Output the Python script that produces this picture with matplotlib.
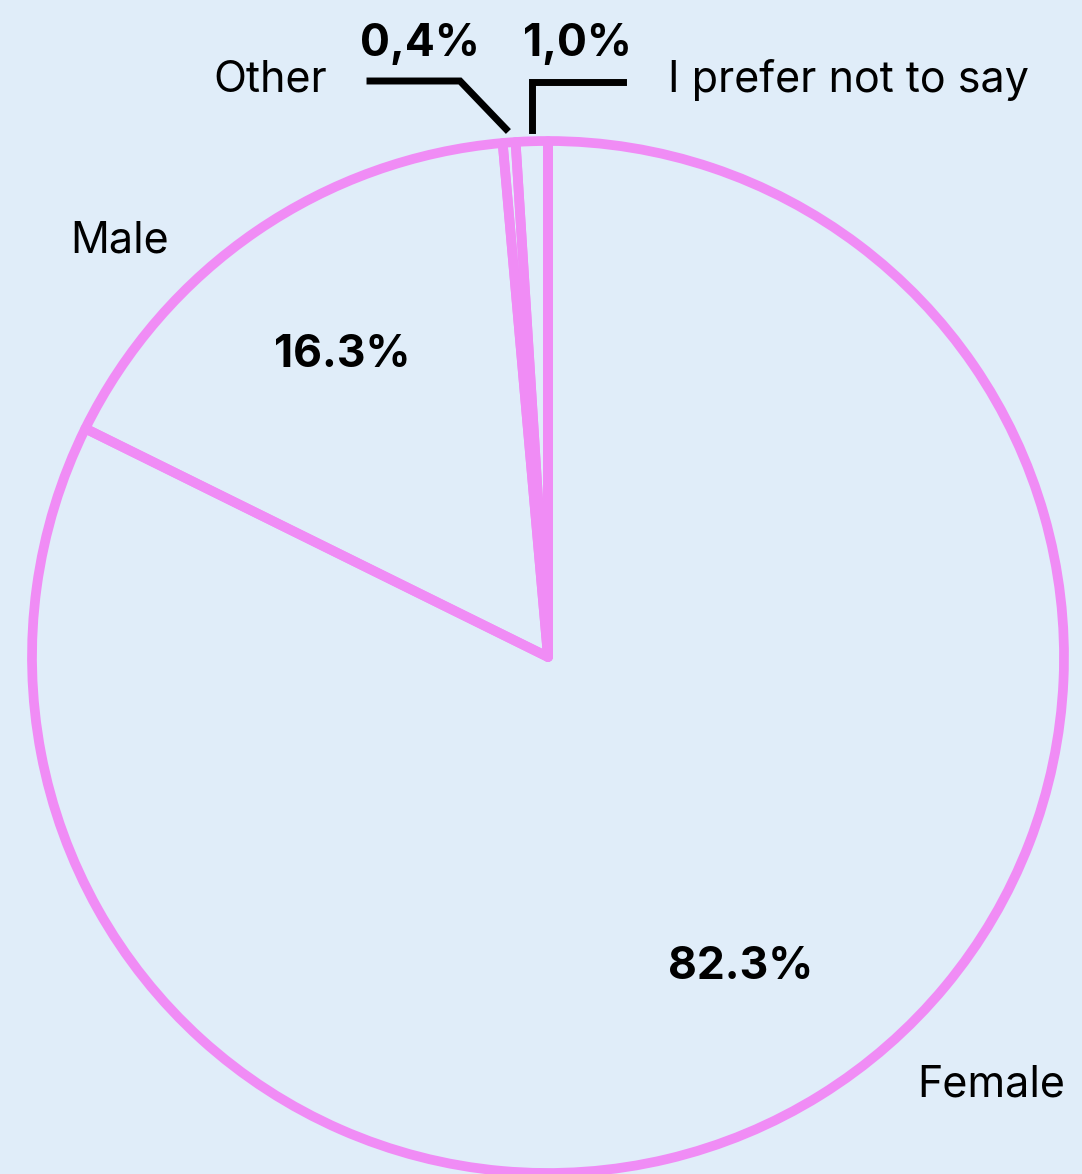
import matplotlib
matplotlib.use("Agg")
import matplotlib.pyplot as plt

# survey answers, in clockwise order from the top
labels = ["Female", "Male", "Other", "I prefer not to say"]
shares = [82.3, 16.3, 0.4, 1.0]

BG = "#e0edf9"
PINK = "#f08cf5"

plt.rcParams["font.family"] = ["Inter", "DejaVu Sans"]

fig = plt.figure(figsize=(10.82, 11.74), dpi=100)
fig.patch.set_facecolor(BG)
ax = fig.add_axes([0, 0, 1, 1])
ax.set_facecolor(BG)

ax.pie(
    shares,
    startangle=90,
    counterclock=False,
    center=(548, 517),
    radius=516,
    colors=["none"] * len(shares),
    wedgeprops=dict(edgecolor=PINK, linewidth=7, joinstyle="round"),
    frame=True,
)
ax.set_xlim(0, 1082)
ax.set_ylim(0, 1174)
ax.set_aspect("equal")
ax.axis("off")

# category names
name_kw = dict(fontsize=31, ha="center", va="center")
ax.text(120, 933, labels[1], **name_kw)
ax.text(991, 89, labels[0], **name_kw)
ax.text(270, 1094, labels[2], **name_kw)
ax.text(848, 1094, labels[3], **name_kw)

# percentages
pct_kw = dict(fontsize=32, fontweight="bold", ha="center", va="center")
ax.text(342, 819, f"{shares[1]:.1f}%", **pct_kw)
ax.text(741, 207, f"{shares[0]:.1f}%", **pct_kw)
ax.text(420, 1130, f"{shares[2]:.1f}%".replace(".", ","), **pct_kw)
ax.text(577, 1130, f"{shares[3]:.1f}%".replace(".", ","), **pct_kw)

# leader lines for the two thin slices
ax.plot([370, 460, 506], [1093, 1093, 1045], color="black", lw=5, solid_joinstyle="miter")
ax.plot([532, 532, 623], [1044, 1092, 1092], color="black", lw=5, solid_joinstyle="miter")

fig.savefig("out.png", dpi=100, facecolor=BG)
